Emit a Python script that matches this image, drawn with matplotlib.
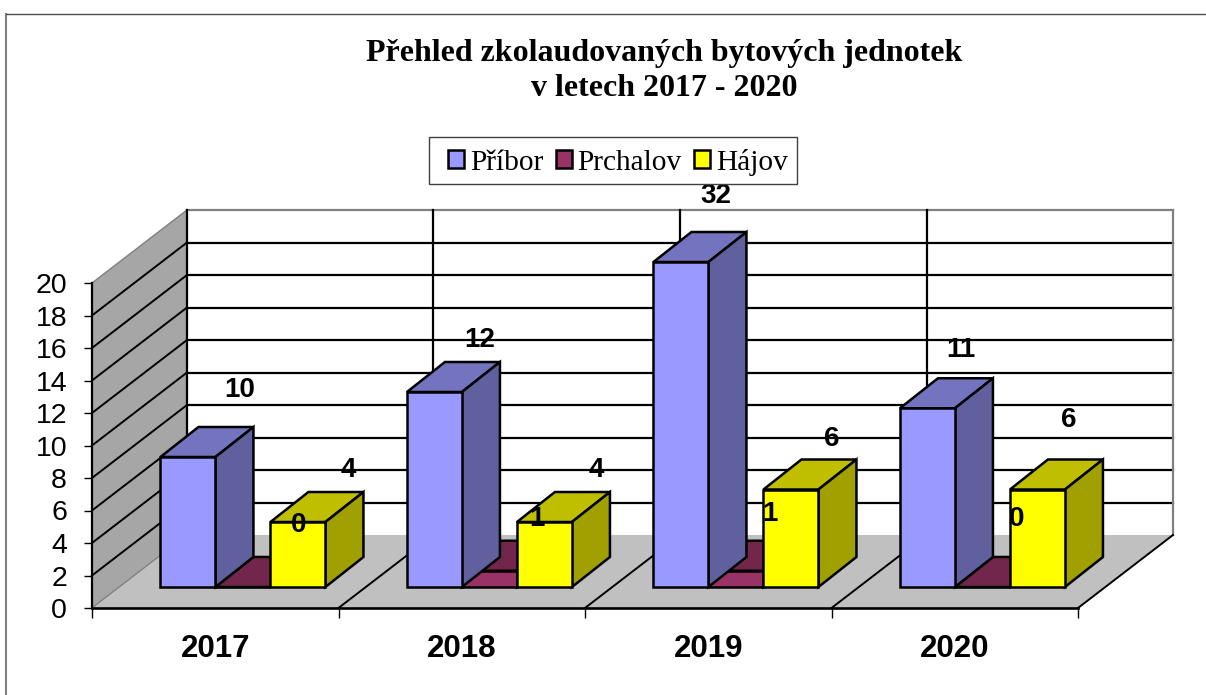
import numpy as np
import matplotlib
matplotlib.use('Agg')
import matplotlib.pyplot as plt
from matplotlib.patches import Polygon, Patch, Rectangle
from matplotlib.lines import Line2D

## data
years = ['2017', '2018', '2019', '2020']
series_names = ['Příbor', 'Prchalov', 'Hájov']
# bar heights as they stand on the axis (cut off at 20)
pribor = [8, 12, 20, 11]
prchalov = [0, 1, 1, 0]
hajov = [4, 4, 6, 6]
# numbers printed above the bars
pribor_labels = ['10', '12', '32', '11']
prchalov_labels = ['0', '1', '1', '0']
hajov_labels = ['4', '4', '6', '6']
y_ticks = list(range(0, 21, 2))

## label offsets from the top of the bar, in pixels
pribor_off = [(52, 67), (45, 52), (35, 66), (33, 58)]
prchalov_off = [(56, 62), (47, 52), (34, 57), (34, 68)]
hajov_off = [(50, 52), (52, 52), (41, 51), (31, 70)]

## colours: front, top, side
c_pribor = ('#9999FF', '#7373BF', '#60609F')
c_prchalov = ('#993366', '#73264C', '#602040')
c_hajov = ('#FFFF00', '#BFBF00', '#A0A000')

W, H = 1206, 695
fig = plt.figure(figsize=(W / 100, H / 100), dpi=100)
ax = fig.add_axes([92 / W, (H - 608) / H, 986 / W, 325 / H])
ax.set_xlim(0, 4)
ax.set_ylim(0, 20)
ax.patch.set_alpha(0)

# one pixel in data units
px = 4 / 986
py = 20 / 325
floor_dx, floor_dy = 95 * px, 73 * py
bar_dx, bar_dy = 38 * px, 30 * py
base_dx, base_dy = 27.7 * px, 21 * py
bar_w = 55 * px

## walls and floor
ax.add_patch(Polygon([(0, 0), (floor_dx, floor_dy), (floor_dx, 20 + floor_dy), (0, 20)],
                     fc='#A6A6A6', ec='#808080', lw=1, clip_on=False, zorder=1))
ax.add_patch(Polygon([(0, 0), (4, 0), (4 + floor_dx, floor_dy), (floor_dx, floor_dy)],
                     fc='#C0C0C0', ec='none', clip_on=False, zorder=1))

for v in y_ticks[1:]:
    col = '#808080' if v == 20 else 'black'
    ax.plot([floor_dx, 4 + floor_dx], [v + floor_dy, v + floor_dy], color=col, lw=1.6,
            clip_on=False, zorder=2)
    if v < 20:
        ax.plot([0, floor_dx], [v, v + floor_dy], color='black', lw=1.4, clip_on=False, zorder=2)
for k in range(5):
    col = '#808080' if k == 4 else 'black'
    ax.plot([k + floor_dx, k + floor_dx], [floor_dy, 20 + floor_dy], color=col, lw=1.6,
            clip_on=False, zorder=2)
    if k > 0:
        ax.plot([k, k + floor_dx], [0, floor_dy], color='black', lw=1.4, clip_on=False, zorder=2)
ax.plot([0, floor_dx], [0, floor_dy], color='#808080', lw=0.8, clip_on=False, zorder=2)


def draw_bars(values, offset, colors, z):
    x = np.arange(4) + 0.5 + base_dx + offset * bar_w
    ax.bar(x, values, width=bar_w, bottom=base_dy, color=colors[0], edgecolor='black',
           linewidth=1.8, clip_on=False, zorder=z + 1)
    for xi, v in zip(x, values):
        l, r = xi - bar_w / 2, xi + bar_w / 2
        t = base_dy + v
        ax.add_patch(Polygon([(l, t), (r, t), (r + bar_dx, t + bar_dy), (l + bar_dx, t + bar_dy)],
                             fc=colors[1], ec='black', lw=1.8, clip_on=False, zorder=z))
        if v > 0:
            ax.add_patch(Polygon([(r, base_dy), (r + bar_dx, base_dy + bar_dy),
                                  (r + bar_dx, t + bar_dy), (r, t)],
                                 fc=colors[2], ec='black', lw=1.8, clip_on=False, zorder=z))
    return x


x_prchalov = draw_bars(prchalov, 0, c_prchalov, 3)
x_pribor = draw_bars(pribor, -1, c_pribor, 5)
x_hajov = draw_bars(hajov, 1, c_hajov, 5)

## numbers over the bars
for xs, vals, labs, offs in [(x_pribor, pribor, pribor_labels, pribor_off),
                             (x_prchalov, prchalov, prchalov_labels, prchalov_off),
                             (x_hajov, hajov, hajov_labels, hajov_off)]:
    for xi, v, lab, off in zip(xs, vals, labs, offs):
        ax.annotate(lab, (xi, base_dy + v), xytext=off, textcoords='offset pixels',
                    ha='center', va='center', family='Liberation Sans', weight='bold',
                    fontsize=20, color='black', annotation_clip=False, zorder=10)

## axes
for s in ['top', 'right']:
    ax.spines[s].set_visible(False)
ax.spines['left'].set_linewidth(1.6)
ax.spines['bottom'].set_linewidth(1.9)
ax.spines['left'].set_zorder(4)
ax.spines['bottom'].set_zorder(4)
ax.set_yticks(y_ticks)
ax.set_yticklabels([str(v) for v in y_ticks], family='Liberation Sans', fontsize=20.5)
ax.tick_params(axis='y', length=6, width=1, pad=12)
ax.set_xticks(range(5))
ax.set_xticklabels([])
ax.tick_params(axis='x', which='major', length=7, width=1)
ax.set_xticks(np.arange(4) + 0.5, minor=True)
ax.set_xticklabels(years, minor=True, family='Liberation Sans', weight='bold', fontsize=22.5)
ax.tick_params(axis='x', which='minor', length=0, pad=19)

## title
fig.text(664.5 / W, 1 - 53 / H, 'Přehled zkolaudovaných bytových jednotek', family='Liberation Serif',
         weight='bold', fontsize=23, ha='center', va='center')
fig.text(664.5 / W, 1 - 89 / H, 'v letech 2017 - 2020', family='Liberation Serif',
         weight='bold', fontsize=23, ha='center', va='center')

## legend: box drawn apart because the entries sit off centre in it
fig.add_artist(Rectangle((429 / W, 1 - 184 / H), 368 / W, 47 / H, transform=fig.transFigure,
                         fc='white', ec='#404040', lw=1))
handles = [Patch(fc=c[0], ec='black', lw=1.8) for c in (c_pribor, c_prchalov, c_hajov)]
leg = fig.legend(handles, series_names, ncol=3, loc='center', bbox_to_anchor=(618 / W, 1 - 162 / H),
                 prop={'family': 'Liberation Serif', 'size': 21.2}, frameon=False,
                 handlelength=0.55, handleheight=0.55, handletextpad=0.2,
                 columnspacing=0.42, borderpad=0, borderaxespad=0)

## outer frame of the chart
fig.add_artist(Line2D([6 / W, 6 / W], [0, 1 - 14 / H], color='#808080', lw=1.5))
fig.add_artist(Line2D([6 / W, 1], [1 - 14 / H, 1 - 14 / H], color='#505050', lw=1))

fig.savefig('out.png', dpi=100)
